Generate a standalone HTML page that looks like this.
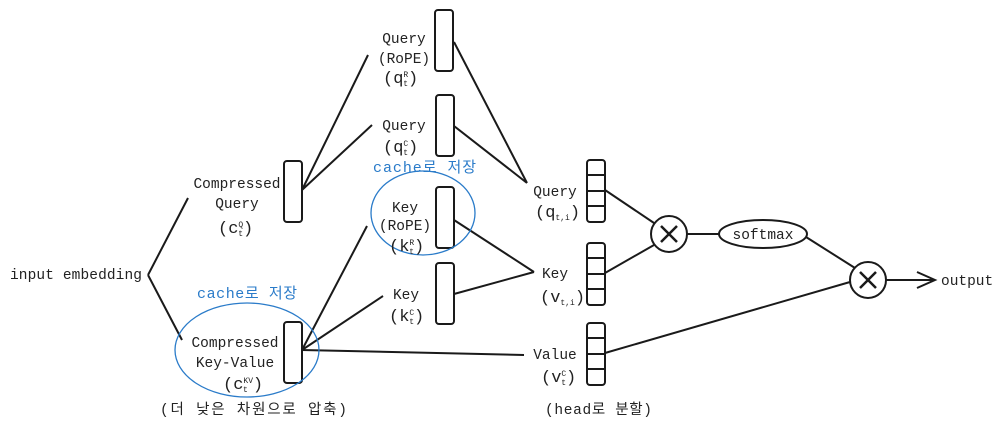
<!DOCTYPE html>
<html><head><meta charset="utf-8"><style>
body{margin:0;background:#fff}
svg text{font-family:"Liberation Mono","Noto Sans CJK KR",monospace;font-size:14.5px;fill:#222}
.s{font-size:8px}
.b{fill:#2a7bc9;font-size:15px}
.m{text-anchor:middle}
</style></head><body>
<svg width="1003" height="430" viewBox="0 0 1003 430" xmlns="http://www.w3.org/2000/svg">
<g stroke="#1a1a1a" stroke-width="2" fill="none">
<rect x="435" y="10" width="18" height="61" rx="3"/>
<rect x="436" y="95" width="18" height="61" rx="3"/>
<rect x="284" y="161" width="18" height="61" rx="3"/>
<rect x="436" y="187" width="18" height="61" rx="3"/>
<rect x="436" y="263" width="18" height="61" rx="3"/>
<rect x="284" y="322" width="18" height="61" rx="3"/>
<rect x="587" y="160" width="18" height="62" rx="3"/>
<path d="M587 175H605M587 191H605M587 206H605"/>
<rect x="587" y="243" width="18" height="62" rx="3"/>
<path d="M587 258H605M587 274H605M587 289H605"/>
<rect x="587" y="323" width="18" height="62" rx="3"/>
<path d="M587 338H605M587 354H605M587 369H605"/>
<circle cx="669" cy="234" r="18"/>
<ellipse cx="763" cy="234" rx="44" ry="14"/>
<circle cx="868" cy="280" r="18"/>
<path d="M661 226L677 242M677 226L661 242M860 272L876 288M876 272L860 288" stroke-width="2.5"/>
<path d="M148 275L188 198M148 275L182 340"/>
<path d="M302 190L368 55M302 190L372 125"/>
<path d="M454 42L527 183M454 126L527 183"/>
<path d="M454 220L534 272M454 294L534 272"/>
<path d="M302 350L367 226M302 350L383 296M302 350L524 355"/>
<path d="M605 190L654 223M605 273L654 245M687 234H719M806 237L855 268M605 353L850 282"/>
<path d="M886 280H933M917 272L935 280L917 288"/>
</g>
<g stroke="#2a7bc9" stroke-width="1.3" fill="none">
<ellipse cx="423" cy="213" rx="52" ry="42"/>
<ellipse cx="247" cy="350" rx="72" ry="47"/>
</g>
<text x="10" y="279" textLength="132">input embedding</text>
<text x="237" y="188" class="m">Compressed</text>
<text x="237" y="208" class="m">Query</text>
<text x="218" y="233" style="font-size:17px">(c<tspan class="s" dy="-6">Q</tspan><tspan class="s" dx="-5" dy="9">t</tspan><tspan dy="-3">)</tspan></text>
<text x="404" y="43" class="m">Query</text>
<text x="404" y="63" class="m">(RoPE)</text>
<text x="383" y="83" style="font-size:17px">(q<tspan class="s" dy="-6">R</tspan><tspan class="s" dx="-5" dy="9">t</tspan><tspan dy="-3">)</tspan></text>
<text x="404" y="130" class="m">Query</text>
<text x="383" y="152" style="font-size:17px">(q<tspan class="s" dy="-6">C</tspan><tspan class="s" dx="-5" dy="9">t</tspan><tspan dy="-3">)</tspan></text>
<text x="373" y="172" class="b" textLength="103">cache로 저장</text>
<text x="405" y="212" class="m">Key</text>
<text x="405" y="230" class="m">(RoPE)</text>
<text x="389" y="251" style="font-size:17px">(k<tspan class="s" dy="-6">R</tspan><tspan class="s" dx="-5" dy="9">t</tspan><tspan dy="-3">)</tspan></text>
<text x="406" y="299" class="m">Key</text>
<text x="389" y="321" style="font-size:17px">(k<tspan class="s" dy="-6">C</tspan><tspan class="s" dx="-5" dy="9">t</tspan><tspan dy="-3">)</tspan></text>
<text x="197" y="298" class="b" textLength="100">cache로 저장</text>
<text x="235" y="347" class="m">Compressed</text>
<text x="235" y="367" class="m">Key-Value</text>
<text x="223" y="389" style="font-size:17px">(c<tspan class="s" dy="-6">KV</tspan><tspan class="s" dx="-10" dy="9">t</tspan><tspan dx="5" dy="-3">)</tspan></text>
<text x="160" y="414" textLength="187">(더 낮은 차원으로 압축)</text>
<text x="555" y="196" class="m">Query</text>
<text x="535" y="217" style="font-size:17px">(q<tspan class="s" dy="3">t,i</tspan><tspan dy="-3">)</tspan></text>
<text x="555" y="278" class="m">Key</text>
<text x="540" y="302" style="font-size:17px">(v<tspan class="s" dy="3">t,i</tspan><tspan dy="-3">)</tspan></text>
<text x="555" y="359" class="m">Value</text>
<text x="541" y="382" style="font-size:17px">(v<tspan class="s" dy="-6">C</tspan><tspan class="s" dx="-5" dy="9">t</tspan><tspan dy="-3">)</tspan></text>
<text x="545" y="414" textLength="107">(head로 분할)</text>
<text x="763" y="239" class="m">softmax</text>
<text x="941" y="285">output</text>
</svg>
</body></html>
